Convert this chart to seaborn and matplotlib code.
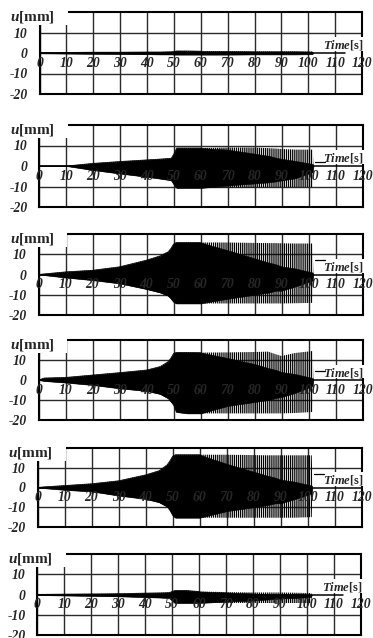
import matplotlib
matplotlib.use("Agg")
import matplotlib.pyplot as plt
from matplotlib.patches import Rectangle
import seaborn as sns

# ---------------------------------------------------------------------------
# Displacement envelopes u(t) [mm] of six measuring points (upper / lower)
# ---------------------------------------------------------------------------
T = [0, 2, 10, 20, 30, 40, 45, 48, 49, 50, 51, 55, 60,
     70, 80, 85, 88, 90, 95, 101.5, 101.8]

P1_UP = [0.2, 0.2, 0.3, 0.4, 0.4, 0.5, 0.5, 0.6, 0.6, 0.7, 1.0, 1.0, 0.9,
         0.9, 0.8, 0.8, 0.8, 0.8, 0.8, 0.7, 0]
P1_LO = [-0.2, -0.2, -0.3, -0.4, -0.5, -0.6, -0.7, -0.7, -0.7, -0.8, -0.8, -0.8, -0.8,
         -0.8, -0.7, -0.7, -0.7, -0.7, -0.7, -0.6, 0]

P2_UP = [0, 0, 0, 1.3, 2.2, 3.0, 3.4, 3.7, 3.8, 6.0, 8.8, 8.8, 8.8,
         9.0, 9.0, 8.7, 8.5, 8.3, 8.0, 8.0, 0]
P2_LO = [0, 0, 0, -2.0, -3.7, -5.3, -6.2, -6.8, -7.0, -9.0, -10.7, -10.7, -10.7,
         -10.5, -10.5, -10.3, -10.3, -10.3, -10.3, -10.3, 0]

P3_UP = [0, 0.3, 1.3, 2.1, 3.8, 7.1, 9.2, 11.2, 12.8, 15.0, 15.8, 15.8, 15.8,
         15.8, 15.6, 15.5, 15.5, 15.4, 15.3, 15.3, 0]
P3_LO = [0, -0.3, -1.5, -2.8, -4.4, -7.2, -8.9, -10.5, -11.8, -13.5, -14.3, -14.3, -14.3,
         -14.3, -14.3, -14.3, -14.3, -14.3, -14.2, -14.0, 0]

P4_UP = [0, 1.0, 1.3, 2.5, 3.7, 5.0, 6.7, 9.2, 11.0, 13.3, 13.8, 13.8, 13.7,
         13.8, 14.0, 14.2, 12.8, 12.0, 13.5, 14.5, 0]
P4_LO = [0, -0.5, -1.3, -2.5, -4.2, -5.5, -7.0, -9.2, -10.8, -12.5, -16.0, -16.7, -16.7,
         -16.7, -16.7, -16.7, -16.7, -16.7, -16.5, -16.0, 0]

P5_UP = [0, 0.3, 1.0, 1.9, 3.4, 6.4, 8.5, 11.5, 13.5, 15.8, 16.6, 16.6, 16.6,
         16.6, 16.4, 16.3, 16.3, 16.3, 16.3, 16.3, 0]
P5_LO = [0, -0.3, -1.2, -2.0, -4.1, -5.8, -7.5, -9.7, -11.5, -14.0, -15.3, -15.3, -15.3,
         -15.3, -15.3, -15.3, -15.3, -15.3, -15.3, -15.0, 0]

P6_UP = [0.1, 0.1, 0.2, 0.3, 0.4, 0.7, 0.8, 0.9, 1.0, 1.5, 2.0, 2.0, 1.5,
         1.2, 1.0, 1.0, 1.0, 1.0, 0.9, 0.7, 0]
P6_LO = [-0.2, -0.3, -0.5, -0.7, -0.9, -1.3, -1.5, -1.7, -1.8, -3.0, -4.2, -4.2, -4.2,
         -4.2, -4.2, -4.2, -4.2, -4.2, -4.2, -4.2, 0]

# dense (solid) part of the oscillation after 60 s
T_TAIL = [60, 70, 80, 85, 88, 90, 95, 101.5, 101.8]
P1_CORE_UP = [0.9, 0.9, 0.8, 0.8, 0.8, 0.8, 0.8, 0.7, 0]
P1_CORE_LO = [-0.8, -0.8, -0.7, -0.7, -0.7, -0.7, -0.7, -0.6, 0]
P2_CORE_UP = [8.8, 8.0, 6.0, 5.0, 4.0, 3.5, 2.5, 1.0, 0]
P2_CORE_LO = [-10.7, -9.5, -8.5, -8.0, -7.5, -7.0, -6.0, -3.0, 0]
P3_CORE_UP = [15.8, 12.0, 8.0, 6.0, 5.0, 4.0, 3.0, 1.0, 0]
P3_CORE_LO = [-14.3, -12.0, -10.0, -9.0, -8.0, -8.0, -6.0, -3.0, 0]
P4_CORE_UP = [13.7, 11.0, 8.0, 6.0, 5.0, 4.0, 3.0, 1.0, 0]
P4_CORE_LO = [-16.7, -13.0, -11.0, -10.0, -9.0, -8.5, -6.5, -3.0, 0]
P5_CORE_UP = [16.6, 12.0, 8.0, 6.0, 5.0, 4.0, 3.0, 1.0, 0]
P5_CORE_LO = [-15.3, -12.0, -10.0, -9.0, -8.0, -8.0, -6.0, -3.0, 0]
P6_CORE_UP = [1.5, 1.0, 0.5, 0.3, 0.2, 0.2, 0.2, 0, 0]
P6_CORE_LO = [-4.2, -3.5, -3.0, -2.5, -2.2, -2.0, -1.8, -1.2, 0]

X_TICKS = [0, 10, 20, 30, 40, 50, 60, 70, 80, 90, 100, 110, 120]
X_LABELS = ["0", "10", "20", "30", "40", "50", "60", "70", "80", "90", "100", "110", "120"]
Y_TICKS = [-20, -10, 0, 10, 20]
Y_LABELS = ["-20", "-10", "0", "10", ""]
U_TITLE = r"$\mathbfit{u}$[mm]"
T_TITLE = r"$\mathbfit{Time}$[s]"

UPPER = [P1_UP, P2_UP, P3_UP, P4_UP, P5_UP, P6_UP]
LOWER = [P1_LO, P2_LO, P3_LO, P4_LO, P5_LO, P6_LO]
CORE_UP = [P1_CORE_UP, P2_CORE_UP, P3_CORE_UP, P4_CORE_UP, P5_CORE_UP, P6_CORE_UP]
CORE_LO = [P1_CORE_LO, P2_CORE_LO, P3_CORE_LO, P4_CORE_LO, P5_CORE_LO, P6_CORE_LO]

# ---------------------------------------------------------------------------
# layout (pixel boxes of the panels: left, top, right, bottom)
# ---------------------------------------------------------------------------
W, H = 373, 638
PANELS_PX = [(39.5, 12, 362, 94), (39.3, 125, 362.5, 207), (38.5, 234, 362.5, 315),
             (38.7, 340, 362.5, 420), (37.5, 448, 361.7, 527), (37.3, 554, 361, 635)]
AXIS_END = [113.5, 120, 120, 120, 120, 113.5]
LEADER_Y = [None, 2.0, 7.0, 4.7, 6.7, None]

sns.set_style("white")
plt.rcParams["font.family"] = ["Liberation Serif", "DejaVu Serif"]
plt.rcParams["hatch.linewidth"] = 0.9
plt.rcParams["mathtext.fontset"] = "custom"
plt.rcParams["mathtext.rm"] = "Liberation Serif:bold"
plt.rcParams["mathtext.it"] = "Liberation Serif:italic:bold"
plt.rcParams["mathtext.bf"] = "Liberation Serif:bold"
plt.rcParams["mathtext.bfit"] = "Liberation Serif:italic:bold"

BI = dict(fontfamily="Liberation Serif", fontweight="bold", fontstyle="italic")
B = dict(fontfamily="Liberation Serif", fontweight="bold", fontstyle="normal")
GRID_C = "#2a2a2a"
TICK_FS = 9.8
TITLE_FS = 11
TIME_FS = 9

fig = plt.figure(figsize=(W / 100, H / 100), dpi=100)

for i, (l, t, r, b) in enumerate(PANELS_PX):
    ax = fig.add_axes([l / W, 1 - b / H, (r - l) / W, (b - t) / H])
    ax.set_xlim(0, 120)
    ax.set_ylim(-20, 20)
    ax.set_xticks(X_TICKS)
    ax.set_yticks(Y_TICKS)
    ax.set_yticklabels(Y_LABELS)
    ax.tick_params(length=0, labelbottom=False, pad=8.5)
    for lbl in ax.get_yticklabels():
        lbl.set_fontsize(TICK_FS)
        lbl.set_fontweight("bold")
        lbl.set_fontstyle("italic")
    ax.grid(axis="x", color=GRID_C, lw=1.0, zorder=1)
    ax.grid(axis="y", visible=False)
    for yv in (10, -10):
        ax.axhline(yv, color=GRID_C, lw=1.0, zorder=1)
    ax.axhline(0, xmax=AXIS_END[i] / 120, color="black", lw=1.1, zorder=1.5)
    for sp in ax.spines.values():
        sp.set_visible(True)
        sp.set_color("black")
        sp.set_linewidth(1.5)
        sp.set_zorder(4)

    up, lo = UPPER[i], LOWER[i]
    # whole oscillation band, drawn as vertical striping
    ax.fill_between(T, lo, up, facecolor="none", edgecolor="black",
                    hatch="|" * 8, linewidth=0, zorder=2)
    # solid part up to 60 s
    n = T.index(60) + 1
    ax.fill_between(T[:n], lo[:n], up[:n], color="black", linewidth=0.4, zorder=2.2)
    sns.lineplot(x=T[:n], y=up[:n], color="black", lw=0.5, ax=ax, zorder=2.3)
    sns.lineplot(x=T[:n], y=lo[:n], color="black", lw=0.5, ax=ax, zorder=2.3)
    # dense core after 60 s
    ax.fill_between(T_TAIL, CORE_LO[i], CORE_UP[i], color="black", linewidth=0.4, zorder=2.2)
    ax.set_xlabel("")
    ax.set_ylabel("")

    # time tick labels inside the panel
    for xv, s in zip(X_TICKS, X_LABELS):
        ax.text(xv, -5, s, ha="center", va="center", fontsize=TICK_FS, zorder=5, **BI)

    # axis title u[mm] on a white patch over the upper-left corner
    ph = b - t
    ax.add_patch(Rectangle((-0.25, 1 - 12.5 / ph), 0.25 + 28.5 / (r - l), 0.4,
                           transform=ax.transAxes, facecolor="white",
                           edgecolor="none", clip_on=False, zorder=5))
    ax.text(-29.0 / (r - l), 1 - 8.5 / ph, U_TITLE, transform=ax.transAxes,
            ha="left", va="baseline", fontsize=TITLE_FS, zorder=6, **B)

    # time axis title
    ax.add_patch(Rectangle((105.2, 0.8), 16.5, 6.8, facecolor="white",
                           edgecolor="none", clip_on=False, zorder=5))
    ax.text(120.6, 2.0, T_TITLE, ha="right", va="baseline", fontsize=TIME_FS,
            zorder=6, **B)
    if LEADER_Y[i] is not None:
        ax.plot([102.5, 106.0], [LEADER_Y[i]] * 2, color="black", lw=0.9, zorder=5.5)

fig.savefig("out.png", dpi=100)
